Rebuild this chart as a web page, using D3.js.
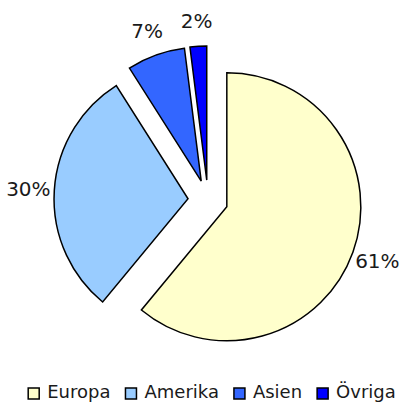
<!DOCTYPE html>
<html>
<head>
<meta charset="utf-8">
<script src="https://cdn.jsdelivr.net/npm/d3@7"></script>
<style>
  body { margin: 0; background: #fff; }
  text { font-family: "DejaVu Sans", sans-serif; fill: #1a1a1a; }
</style>
</head>
<body>
<svg id="chart" width="407" height="403"></svg>
<script>
const regions = ["Europa", "Amerika", "Asien", "Övriga"]
const shares = [61, 30, 7, 2]
const colors = ["#ffffcc", "#99ccff", "#3366ff", "#0000ff"]

const width = 407, height = 403
const center = {x: 208, y: 200}
const radius = 134
const explode = 20 // every slice pulled out a bit

let svg = d3.select("#chart")

let pie = d3.pie().sort(null).value(d => d)
let arcs = pie(shares)

let arc = d3.arc().innerRadius(0).outerRadius(radius)
let labelArc = d3.arc().innerRadius(160).outerRadius(160)

let g = svg.append("g")
    .attr("transform", "translate(" + center.x + "," + center.y + ")")

// offset of each slice along its mid angle
function shift(d) {
  let a = (d.startAngle + d.endAngle) / 2
  return [Math.sin(a) * explode, -Math.cos(a) * explode]
}

let slices = g.selectAll("g.slice")
    .data(arcs)
    .enter().append("g")
    .attr("class", "slice")
    .attr("transform", d => "translate(" + shift(d) + ")")

slices.append("path")
    .attr("d", arc)
    .attr("fill", (d, i) => colors[i])
    .attr("stroke", "#000")
    .attr("stroke-width", 1.5)
    .attr("stroke-linejoin", "miter")

slices.append("text")
    .attr("transform", d => "translate(" + labelArc.centroid(d) + ")")
    .attr("text-anchor", "middle")
    .attr("dy", "0.36em")
    .style("font-size", "20px")
    .text(d => d.data + "%")

// legend
let legend = svg.append("g")
let lx = 0
let items = regions.map(function(name, i) {
  let item = legend.append("g")
  item.append("rect")
      .attr("x", 0).attr("y", -10)
      .attr("width", 11).attr("height", 11)
      .attr("fill", colors[i])
      .attr("stroke", "#000")
      .attr("stroke-width", 1.5)
  let t = item.append("text")
      .attr("x", 19).attr("y", 0)
      .style("font-size", "18px")
      .text(name)
  let w = 19 + t.node().getComputedTextLength()
  item.attr("transform", "translate(" + lx + ",0)")
  lx += w + 15
  return item
})
let legendWidth = lx - 15
legend.attr("transform", "translate(" + (212 - legendWidth / 2) + ",398)")
</script>
</body>
</html>
